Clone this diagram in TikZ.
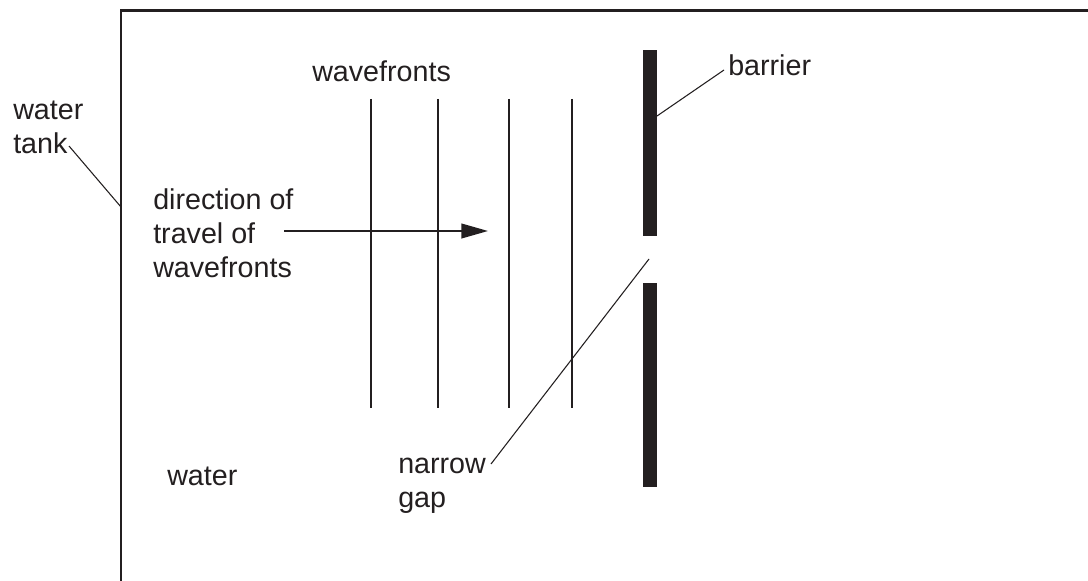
\documentclass[tikz,border=0pt]{standalone}
\usepackage{fontspec}
\setmainfont{Liberation Sans}
\usetikzlibrary{arrows.meta}
\definecolor{ink}{RGB}{35,31,32}
\tikzset{
  lbl/.style={inner sep=0pt, anchor=base west, align=left, text=ink,
    font=\fontsize{21.5pt}{25.5pt}\selectfont},
  tankline/.style={draw=ink, line width=2pt},
  wave/.style={draw=ink, line width=1.5pt},
  leader/.style={draw=ink, line width=0.8pt},
  motion/.style={draw=ink, line width=1.5pt, -{Triangle[length=20pt,width=11pt]}},
  barrierbox/.style={fill=ink, draw=none}
}
\begin{document}
\begin{tikzpicture}[x=0.75pt,y=-0.75pt]
\useasboundingbox (0,0) rectangle (1088,581);
\fill[white] (0,0) rectangle (1088,581);
\begin{scope}
\clip (0,0) rectangle (1088,581);
\draw[tankline] (121,600) -- (121,10.5) -- (1100,10.5);
\end{scope}
% wavefronts
\foreach \x in {371,438,509,572} {\draw[wave] (\x,99) -- (\x,408);}
% barrier
\fill[barrierbox] (643,50) rectangle (657,236);
\fill[barrierbox] (643,283) rectangle (657,487);
% labels (multi-line nodes: base = last line)
\node[lbl] (tank) at (13,154) {water\\tank};
\node[lbl] (wf) at (312,82) {wavefronts};
\node[lbl] (dir) at (153,277) {direction of\\travel of\\wavefronts};
\node[lbl] (bar) at (728,76) {barrier};
\node[lbl] (wat) at (167,485) {water};
\node[lbl] (gap) at (398,507) {narrow\\gap};
% coordinates
\coordinate (tankA) at (69,146);
\coordinate (tankB) at (121,207);
\coordinate (barA) at (724,70);
\coordinate (barB) at (657,116);
\coordinate (gapA) at (491,464);
\coordinate (gapB) at (649,259);
\coordinate (arrA) at (284,231);
\coordinate (arrB) at (488,231);
% connectors
\draw[leader] (tankA) -- (tankB);
\draw[leader] (barA) -- (barB);
\draw[leader] (gapA) -- (gapB);
\draw[motion] (arrA) -- (arrB);
\end{tikzpicture}
\end{document}
